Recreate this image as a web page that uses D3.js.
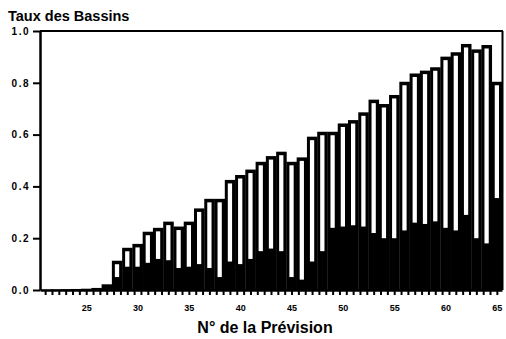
<!DOCTYPE html>
<html>
<head>
<meta charset="utf-8">
<script src="https://cdn.jsdelivr.net/npm/d3@7"></script>
<style>
  html, body { margin: 0; padding: 0; background: #fff; }
  svg { display: block; }
  text { font-family: "Liberation Sans", Arial, sans-serif; font-weight: bold; fill: #000; }
</style>
</head>
<body>
<svg id="chart" width="506" height="339"></svg>
<script>
// ---- data ----
const forecastNumbers = d3.range(21, 66); // 21 .. 65
const totalRate = [
  0.001, 0.002, 0.003, 0.004, 0.005, 0.008,
  0.022, 0.113, 0.163, 0.178, 0.225, 0.240, 0.264, 0.245, 0.264, 0.315,
  0.352, 0.352, 0.425, 0.444, 0.465, 0.495, 0.517, 0.534, 0.495, 0.512,
  0.592, 0.611, 0.611, 0.643, 0.656, 0.686, 0.735, 0.718, 0.753, 0.804,
  0.836, 0.847, 0.860, 0.901, 0.918, 0.950, 0.929, 0.946, 0.804
];
const darkRate = [
  0.001, 0.002, 0.003, 0.004, 0.005, 0.008,
  0.012, 0.050, 0.090, 0.090, 0.105, 0.120, 0.115, 0.085, 0.090, 0.100,
  0.085, 0.050, 0.110, 0.100, 0.120, 0.150, 0.160, 0.150, 0.050, 0.040,
  0.110, 0.150, 0.240, 0.245, 0.250, 0.245, 0.220, 0.200, 0.200, 0.230,
  0.260, 0.255, 0.265, 0.240, 0.230, 0.290, 0.200, 0.180, 0.355
];
const xLabelTicks = [25, 30, 35, 40, 45, 50, 55, 60, 65];
const yTicks = [0, 0.2, 0.4, 0.6, 0.8, 1.0];
const titleText = "Taux des Bassins";
const xTitleText = "N° de la Prévision";

// ---- layout ----
(function () {
const svg = d3.select("#chart");
const mLeft = 40, mRight = 502, mTop = 31, mBottom = 290;
const x = d3.scaleLinear().domain([20.5, 65.5]).range([mLeft, mRight]);
const y = d3.scaleLinear().domain([0, 1]).range([mBottom, mTop]);
const minorTicks = d3.range(0, 67).map(k => 21 + k * 2 / 3);

const data = forecastNumbers.map((n, i) => ({ n, total: totalRate[i], dark: darkRate[i] }));

// bars: black outline + dark lower part, white upper interior
const g = svg.append("g");
const bw = x(1) - x(0);
g.selectAll("rect.outer").data(data).join("rect")
  .attr("class", "outer")
  .attr("x", d => x(d.n - 0.5))
  .attr("width", bw + 0.3)
  .attr("y", d => y(d.total))
  .attr("height", d => y(0) - y(d.total))
  .attr("fill", "#000");
const inset = 3, topInset = 3.5;
g.selectAll("rect.inner").data(data.filter(d => (y(d.dark) - y(d.total) - topInset) > 0.5)).join("rect")
  .attr("class", "inner")
  .attr("x", d => x(d.n - 0.5) + inset)
  .attr("width", bw - 2 * inset)
  .attr("y", d => y(d.total) + topInset)
  .attr("height", d => y(d.dark) - y(d.total) - topInset)
  .attr("fill", "#fff");

// frame (top and right)
svg.append("line").attr("x1", mLeft).attr("x2", mRight + 1).attr("y1", mTop).attr("y2", mTop)
  .attr("stroke", "#000").attr("stroke-width", 2);
svg.append("line").attr("x1", mRight + 0.5).attr("x2", mRight + 0.5).attr("y1", mTop).attr("y2", mBottom)
  .attr("stroke", "#000").attr("stroke-width", 2);

// x axis: minor ticks
const xAxisTicks = svg.append("g").attr("transform", `translate(0,${mBottom})`)
  .call(d3.axisBottom(x).tickValues(minorTicks).tickSize(5).tickSizeOuter(0).tickFormat(""));
xAxisTicks.select(".domain").attr("stroke", "#000").attr("stroke-width", 2.5);
xAxisTicks.selectAll(".tick line").attr("stroke", "#000").attr("stroke-width", 2);

// x axis: labels
const xAxisLabels = svg.append("g").attr("transform", `translate(0,${mBottom})`)
  .call(d3.axisBottom(x).tickValues(xLabelTicks).tickSize(0).tickPadding(15).tickFormat(d3.format("d")));
xAxisLabels.select(".domain").remove();
xAxisLabels.selectAll("text").style("font-size", "9px").style("font-weight", "bold")
  .style("font-family", "'Liberation Sans', Arial, sans-serif");

// y axis
const yAxis = svg.append("g").attr("transform", `translate(${mLeft},0)`)
  .call(d3.axisLeft(y).tickValues(yTicks).tickSize(7).tickSizeOuter(0).tickPadding(3).tickFormat(d3.format(".1f")));
yAxis.select(".domain").attr("stroke", "#000").attr("stroke-width", 2.5);
yAxis.selectAll(".tick line").attr("stroke", "#000").attr("stroke-width", 2);
yAxis.selectAll("text").style("font-size", "10px").style("font-weight", "bold")
  .style("letter-spacing", "1.5px")
  .style("font-family", "'Liberation Sans', Arial, sans-serif");

// titles
svg.append("text").attr("x", 8).attr("y", 21).style("font-size", "14.5px").text(titleText);
svg.append("text").attr("x", 265).attr("y", 333).attr("text-anchor", "middle")
  .style("font-size", "16px").text(xTitleText);
})();
</script>
</body>
</html>
